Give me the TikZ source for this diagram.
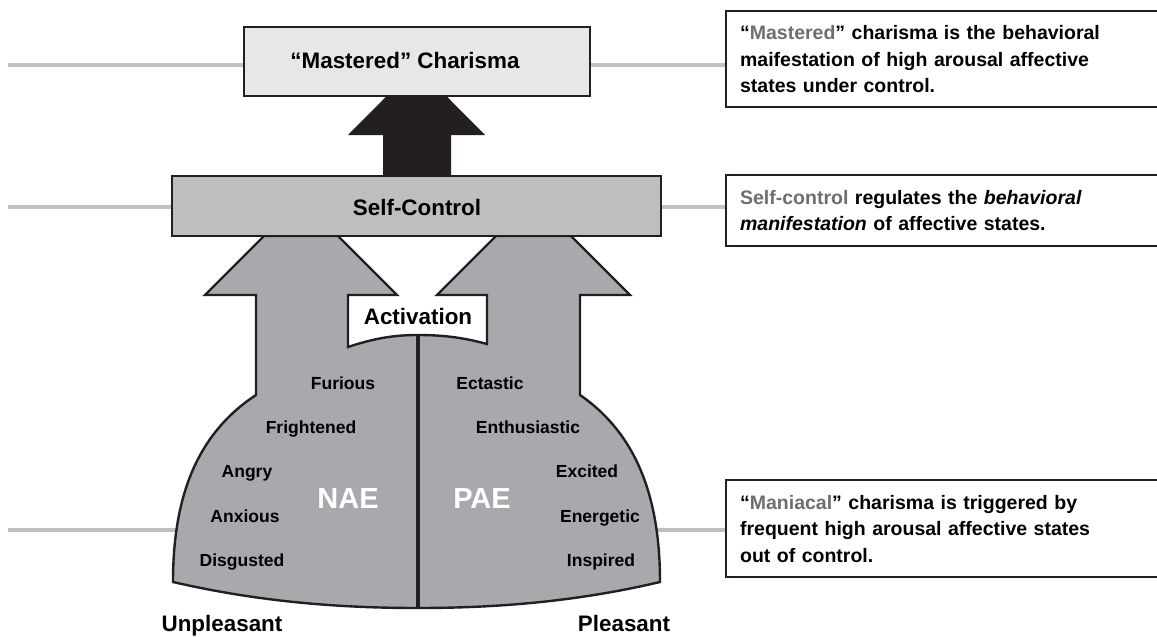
\documentclass[tikz,border=0pt]{standalone}
\usepackage{fontspec}
\setmainfont{Liberation Sans}
\definecolor{lightbox}{HTML}{E6E7E8}
\definecolor{midbox}{HTML}{BCBEC0}
\definecolor{shapegray}{HTML}{A7A9AC}
\definecolor{linegray}{HTML}{C4BFB8}
\definecolor{hilite}{HTML}{6D6E71}
\definecolor{outline}{HTML}{231F20}
\begin{document}
\begin{tikzpicture}[x=1pt,y=-1pt,
  guide/.style={draw=linegray,line width=4pt},
  mainbox/.style={draw=outline,line width=2.2pt,rectangle,inner sep=0pt},
  notebox/.style={draw=outline,line width=2.2pt,rectangle,fill=white,anchor=north west,inner xsep=14pt,inner ysep=0pt,text width=432pt,align=left,font=\bfseries\fontsize{19.5}{26.5}\selectfont},
  word/.style={font=\bfseries\fontsize{17.5}{20}\selectfont,inner sep=0pt,anchor=base},
  big/.style={font=\bfseries\fontsize{29}{32}\selectfont,text=white,inner sep=0pt,anchor=base},
  side/.style={font=\bfseries\fontsize{22.4}{26}\selectfont,inner sep=0pt,anchor=base}]
\useasboundingbox (0,0) rectangle (1157,637);

% guide line ends
\coordinate (l1) at (8,65);
\coordinate (l2) at (8,207);
\coordinate (l3) at (8,530);
\coordinate (sL) at (190,530);
\coordinate (sR) at (645,530);

% notes
\node[notebox,minimum width=460pt,minimum height=96pt] (n1) at (725,10)
  {``\textcolor{hilite}{Mastered}'' charisma is the behavioral\\maifestation of high arousal affective\\states under control.};
\node[notebox,minimum width=460pt,minimum height=71pt] (n2) at (725,174)
  {\textcolor{hilite}{Self-control} regulates the \textit{behavioral}\\\textit{manifestation} of affective states.};
\node[notebox,minimum width=460pt,minimum height=97pt] (n3) at (725,479)
  {``\textcolor{hilite}{Maniacal}'' charisma is triggered by\\frequent high arousal affective states\\out of control.};

\coordinate (mW) at (244,65);
\coordinate (mE) at (590,65);
\coordinate (cW) at (172,207);
\coordinate (cE) at (661,207);

\draw[guide] (l1) -- (mW);
\draw[guide] (mE) -- (n1.west |- mE);
\draw[guide] (l2) -- (cW);
\draw[guide] (cE) -- (n2.west |- cE);
\draw[guide] (l3) -- (sL);
\draw[guide] (sR) -- (n3.west |- sR);

% big gray double arrow shape
\path[fill=shapegray,draw=outline,line width=2.4pt,line join=miter]
  (173,582) .. controls (173,500) and (195,435) .. (256,395)
  -- (256,295) -- (205,295) -- (264,236) -- (338,236) -- (397,295)
  -- (348,295) -- (348,347)
  .. controls (375,338) and (395,335) .. (418,335)
  .. controls (445,335) and (465,338) .. (487,344)
  -- (487,295) -- (437,295) -- (496,236) -- (571,236) -- (630,295)
  -- (580,295) -- (580,395)
  .. controls (638,435) and (660,500) .. (660,582)
  .. controls (575,602) and (495,608) .. (418,608)
  .. controls (340,608) and (260,602) .. (173,582) -- cycle;
\draw[outline,line width=4pt] (418,336) -- (418,608);

% black arrow
\fill[outline] (383,178) -- (383,135) -- (348,135) -- (416.5,66) -- (485,135) -- (451,135) -- (451,178) -- cycle;

\node[mainbox,fill=midbox,minimum width=489pt,minimum height=60pt] (sc) at (416.5,206) {};
\node[side] (sct) at (417,215) {Self-Control};
\node[mainbox,fill=lightbox,minimum width=346pt,minimum height=69pt] (mc) at (417,61.5) {};
\node[side] (mct) at (405,68) {``Mastered'' Charisma};

% labels
\node[side] (act) at (418,324) {Activation};
\node[word] (w1) at (343,389.5) {Furious};
\node[word] (w2) at (311,433.5) {Frightened};
\node[word] (w3) at (247,477.5) {Angry};
\node[word] (w4) at (245,522.5) {Anxious};
\node[word] (w5) at (242,566.5) {Disgusted};
\node[word] (p1) at (490,389.5) {Ectastic};
\node[word] (p2) at (528,433.5) {Enthusiastic};
\node[word] (p3) at (587,477.5) {Excited};
\node[word] (p4) at (600,522.5) {Energetic};
\node[word] (p5) at (601,566.5) {Inspired};
\node[big] (nae) at (348,508) {NAE};
\node[big] (pae) at (482,508) {PAE};
\node[side] (unp) at (222,631) {Unpleasant};
\node[side] (ple) at (624,631) {Pleasant};
\end{tikzpicture}
\end{document}
